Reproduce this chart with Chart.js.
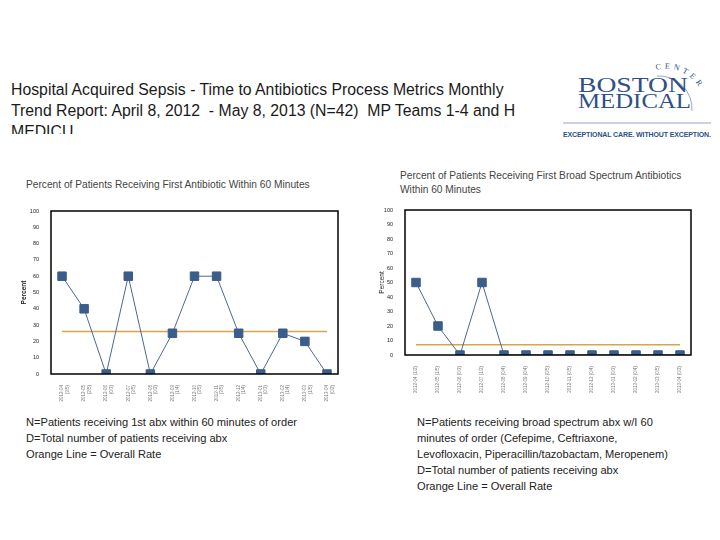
<!DOCTYPE html>
<html>
<head>
<meta charset="utf-8">
<script src="https://cdn.jsdelivr.net/npm/chart.js@4"></script>
<style>
  body { margin: 0; width: 720px; height: 540px; background: #fff; position: relative; overflow: hidden; font-family: "Liberation Sans", Arial, sans-serif; }
  .abs { position: absolute; }
  #title { left: 11px; top: 79px; width: 560px; height: 55px; overflow: hidden; white-space: nowrap; font-size: 15.8px; line-height: 21px; color: #1a1a1a; }
  .sub { font-size: 10.2px; line-height: 14px; color: #444; white-space: nowrap; }
  .note { font-size: 11.1px; line-height: 16px; color: #222; white-space: nowrap; }
  #logo { left: 560px; top: 58px; width: 160px; height: 90px; }
</style>
</head>
<body>

<div id="title" class="abs">Hospital Acquired Sepsis - Time to Antibiotics Process Metrics Monthly<br>Trend Report: April 8, 2012&nbsp; - May 8, 2013 (N=42)&nbsp; MP Teams 1-4 and H<br>MEDICU</div>

<svg id="logo" class="abs" viewBox="0 0 160 90" width="160" height="90">
  <defs><path id="arc" d="M 96 12 A 38 38 0 0 1 144 46"></path></defs>
  <text font-family="Liberation Serif, serif" font-size="8" fill="#2f4f88" letter-spacing="3.5"><textPath href="#arc">CENTER</textPath></text>
  <path d="M 97 18 A 33 33 0 0 1 132 53" stroke="#7f93b8" stroke-width="0.8" fill="none"></path>
  <text x="18" y="34" font-family="Liberation Serif, serif" font-size="21" fill="#2f4f88" textLength="110" lengthAdjust="spacingAndGlyphs">BOSTON</text>
  <text x="18" y="50" font-family="Liberation Serif, serif" font-size="21" fill="#2f4f88" textLength="113" lengthAdjust="spacingAndGlyphs">MEDICAL</text>
  <line x1="3" y1="65" x2="151" y2="65" stroke="#9aa8c0" stroke-width="1.2"></line>
  <text x="3" y="79" font-family="Liberation Sans, Arial, sans-serif" font-size="7" font-weight="bold" fill="#2f4f88" textLength="148">EXCEPTIONAL CARE. WITHOUT EXCEPTION.</text>
</svg>

<div class="abs sub" style="left:26px;top:178px;">Percent of Patients Receiving First Antibiotic Within 60 Minutes</div>
<div class="abs sub" style="left:400px;top:169px;">Percent of Patients Receiving First Broad Spectrum Antibiotics<br>Within 60 Minutes</div>

<div class="abs" style="left:20px;top:201px;width:325px;height:201px;"><canvas id="left"></canvas></div>
<div class="abs" style="left:378px;top:200px;width:320px;height:195px;"><canvas id="right"></canvas></div>

<div class="abs note" style="left:26px;top:414px;">N=Patients receiving 1st abx within 60 minutes of order<br>D=Total number of patients receiving abx<br>Orange Line = Overall Rate</div>
<div class="abs note" style="left:417px;top:414px;">N=Patients receiving broad spectrum abx w/I 60<br>minutes of order (Cefepime, Ceftriaxone,<br>Levofloxacin, Piperacillin/tazobactam, Meropenem)<br>D=Total number of patients receiving abx<br>Orange Line = Overall Rate</div>

<script>
const months = ['2012-04', '2012-05', '2012-06', '2012-07', '2012-08', '2012-09', '2012-10',
  '2012-11', '2012-12', '2013-01', '2013-02', '2013-03', '2013-04'];

// first antibiotic within 60 min
const leftValues = [60, 40, 0, 60, 0, 25, 60, 60, 25, 0, 25, 20, 0];
const leftCounts = ['(3/5)', '(2/5)', '(0/3)', '(3/5)', '(0/2)', '(1/4)', '(3/5)', '(3/5)', '(1/4)', '(0/3)', '(1/4)', '(1/5)', '(0/2)'];
const leftRate = 26;

// broad spectrum within 60 min
const rightValues = [50, 20, 0, 50, 0, 0, 0, 0, 0, 0, 0, 0, 0];
const rightCounts = ['(1/2)', '(1/5)', '(0/3)', '(1/2)', '(0/4)', '(0/4)', '(0/5)', '(0/5)', '(0/4)', '(0/3)', '(0/4)', '(0/5)', '(0/2)'];
const rightRate = 7;

const yTicks = [0, 10, 20, 30, 40, 50, 60, 70, 80, 90, 100];

const blue = '#3b5d8c';
const orange = '#d6a54c';

// box round the plot area
const frame = {
  id: 'frame',
  afterDraw(chart) {
    const a = chart.chartArea;
    const c = chart.ctx;
    c.save();
    c.strokeStyle = '#000';
    c.lineWidth = 1.5;
    c.strokeRect(a.left, a.top, a.right - a.left, a.bottom - a.top);
    c.restore();
  }
};

function makeChart(id, labels, values, rate, yWidth, xHeight, padTop, padRight, boldTitle) {
  return new Chart(document.getElementById(id), {
    type: 'line',
    data: {
      labels: labels,
      datasets: [
        {
          data: values,
          borderColor: '#4d6890',
          borderWidth: 1,
          pointStyle: 'rect',
          pointRadius: 6,
          pointBackgroundColor: blue,
          pointBorderColor: blue,
          order: 1
        },
        {
          data: values.map(() => rate),
          borderColor: orange,
          borderWidth: 1.5,
          pointRadius: 0,
          order: 2
        }
      ]
    },
    options: {
      responsive: true,
      maintainAspectRatio: false,
      animation: false,
      layout: { padding: { top: padTop, right: padRight, left: 0, bottom: 0 } },
      plugins: { legend: { display: false }, tooltip: { enabled: false } },
      scales: {
        x: {
          offset: true,
          grid: { display: false },
          border: { display: false },
          ticks: { minRotation: 90, maxRotation: 90, autoSkip: false, padding: 3,
            font: { size: 4.5, family: 'Liberation Sans' }, color: '#777' },
          afterFit(s) { s.height = xHeight; }
        },
        y: {
          min: 0, max: 100,
          afterBuildTicks(s) { s.ticks = yTicks.map(v => ({ value: v })); },
          grid: { display: false },
          border: { display: false },
          title: { display: true, text: 'Percent', padding: 0,
            font: { size: 6.5, weight: boldTitle ? 'bold' : 'normal', family: 'Liberation Sans' }, color: '#222' },
          ticks: { padding: 4, font: { size: 5.5, family: 'Liberation Sans' }, color: '#222' },
          afterFit(s) { s.width = yWidth; }
        }
      }
    },
    plugins: [frame]
  });
}

const leftLabels = months.map((m, i) => [m, leftCounts[i]]);
const rightLabels = months.map((m, i) => m + ' ' + rightCounts[i]);

makeChart('left', leftLabels, leftValues, leftRate, 31, 28, 10, 6, true);
makeChart('right', rightLabels, rightValues, rightRate, 27, 40, 10, 6, false);
</script>
</body>
</html>
